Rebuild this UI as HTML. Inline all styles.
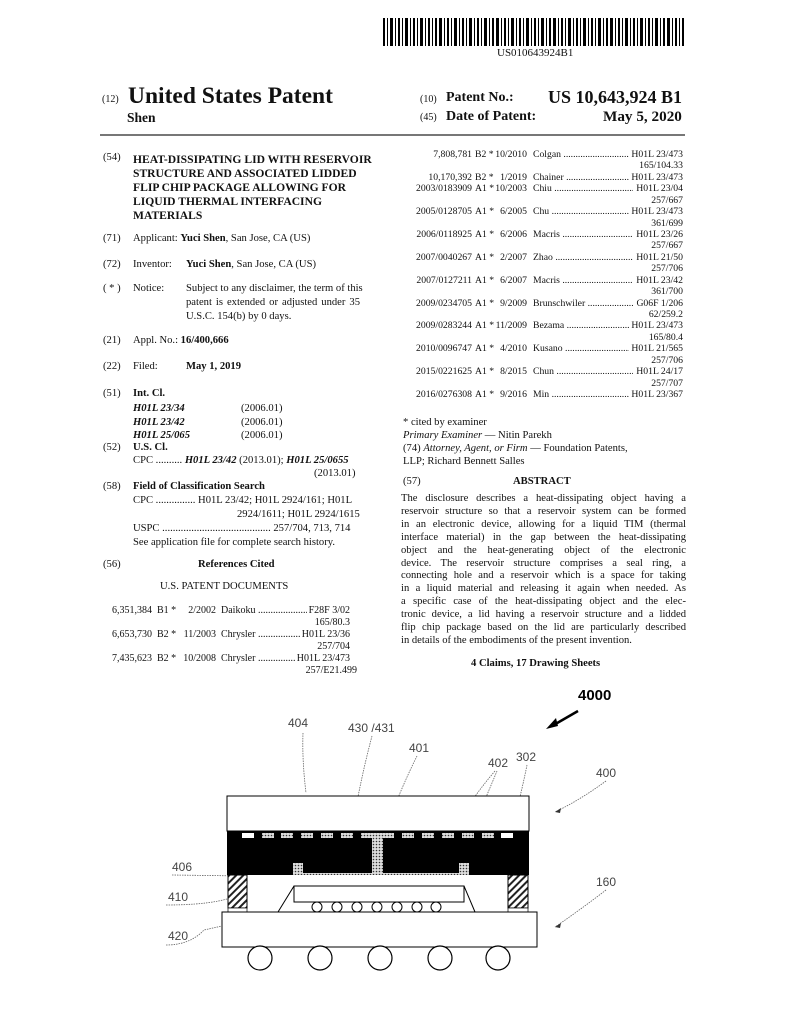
<!DOCTYPE html>
<html><head><meta charset="utf-8"><style>
body{margin:0;background:#fff}
#p{position:relative;width:794px;height:1024px;overflow:hidden;font-family:"Liberation Serif",serif;color:#111;font-size:10.6px}
.a{position:absolute;white-space:nowrap;line-height:1}
.b{font-weight:bold}
.r{position:absolute;height:12px;font-size:10px;line-height:1;white-space:nowrap}
.rr{font-size:9.7px}
.r span{position:absolute;top:0}
.n{text-align:right}
.nm{overflow:hidden}
.c{text-align:right;background:#fff;padding-left:2px}
.l{position:absolute;left:401px;width:285px;text-align:justify;text-align-last:justify;white-space:nowrap;font-size:10.6px;line-height:1}
</style></head><body><div id="p">
<svg class="a" style="left:383px;top:18px" width="301" height="28">
<g fill="#000">
<rect x="0" y="0" width="2" height="28"/><rect x="4" y="0" width="1" height="28"/><rect x="7" y="0" width="3" height="28"/><rect x="12" y="0" width="1" height="28"/><rect x="15" y="0" width="2" height="28"/><rect x="19" y="0" width="1" height="28"/><rect x="22" y="0" width="3" height="28"/><rect x="27" y="0" width="1" height="28"/><rect x="30" y="0" width="2" height="28"/><rect x="34" y="0" width="1" height="28"/><rect x="37" y="0" width="3" height="28"/><rect x="42" y="0" width="1" height="28"/><rect x="45" y="0" width="2" height="28"/><rect x="49" y="0" width="1" height="28"/><rect x="52" y="0" width="2" height="28"/><rect x="56" y="0" width="3" height="28"/><rect x="61" y="0" width="1" height="28"/><rect x="64" y="0" width="2" height="28"/><rect x="68" y="0" width="1" height="28"/><rect x="71" y="0" width="3" height="28"/><rect x="76" y="0" width="1" height="28"/><rect x="79" y="0" width="2" height="28"/><rect x="83" y="0" width="1" height="28"/><rect x="86" y="0" width="3" height="28"/><rect x="91" y="0" width="1" height="28"/><rect x="94" y="0" width="2" height="28"/><rect x="98" y="0" width="1" height="28"/><rect x="101" y="0" width="3" height="28"/><rect x="106" y="0" width="1" height="28"/><rect x="109" y="0" width="2" height="28"/><rect x="113" y="0" width="3" height="28"/><rect x="118" y="0" width="1" height="28"/><rect x="121" y="0" width="2" height="28"/><rect x="125" y="0" width="1" height="28"/><rect x="128" y="0" width="3" height="28"/><rect x="133" y="0" width="1" height="28"/><rect x="136" y="0" width="2" height="28"/><rect x="140" y="0" width="1" height="28"/><rect x="143" y="0" width="3" height="28"/><rect x="148" y="0" width="1" height="28"/><rect x="151" y="0" width="2" height="28"/><rect x="155" y="0" width="1" height="28"/><rect x="158" y="0" width="3" height="28"/><rect x="163" y="0" width="1" height="28"/><rect x="166" y="0" width="2" height="28"/><rect x="170" y="0" width="3" height="28"/><rect x="175" y="0" width="1" height="28"/><rect x="178" y="0" width="2" height="28"/><rect x="182" y="0" width="1" height="28"/><rect x="185" y="0" width="3" height="28"/><rect x="190" y="0" width="1" height="28"/><rect x="193" y="0" width="2" height="28"/><rect x="197" y="0" width="1" height="28"/><rect x="200" y="0" width="3" height="28"/><rect x="205" y="0" width="1" height="28"/><rect x="208" y="0" width="2" height="28"/><rect x="212" y="0" width="1" height="28"/><rect x="215" y="0" width="3" height="28"/><rect x="220" y="0" width="1" height="28"/><rect x="223" y="0" width="2" height="28"/><rect x="227" y="0" width="3" height="28"/><rect x="232" y="0" width="1" height="28"/><rect x="235" y="0" width="2" height="28"/><rect x="239" y="0" width="1" height="28"/><rect x="242" y="0" width="3" height="28"/><rect x="247" y="0" width="1" height="28"/><rect x="250" y="0" width="2" height="28"/><rect x="254" y="0" width="1" height="28"/><rect x="257" y="0" width="3" height="28"/><rect x="262" y="0" width="1" height="28"/><rect x="265" y="0" width="2" height="28"/><rect x="269" y="0" width="1" height="28"/><rect x="272" y="0" width="3" height="28"/><rect x="277" y="0" width="1" height="28"/><rect x="280" y="0" width="2" height="28"/><rect x="284" y="0" width="3" height="28"/><rect x="289" y="0" width="1" height="28"/><rect x="292" y="0" width="2" height="28"/><rect x="296" y="0" width="1" height="28"/><rect x="299" y="0" width="2" height="28"/>
</g></svg>
<div class="a" style="left:497px;top:48px;font-size:11px">US010643924B1</div>

<div class="a" style="left:102px;top:95px;font-size:10px">(12)</div>
<div class="a b" style="left:128px;top:85px;font-size:23.5px">United States Patent</div>
<div class="a b" style="left:127px;top:111px;font-size:13.5px">Shen</div>
<div class="a" style="left:420px;top:95px;font-size:10px">(10)</div>
<div class="a b" style="left:446px;top:91px;font-size:14px">Patent No.:</div>
<div class="a b" style="left:548px;top:88px;font-size:18px">US 10,643,924 B1</div>
<div class="a" style="left:420px;top:113px;font-size:10px">(45)</div>
<div class="a b" style="left:446px;top:110px;font-size:14px">Date of Patent:</div>
<div class="a b" style="left:603px;top:109px;font-size:15.2px">May 5, 2020</div>
<div class="a" style="left:100px;top:134px;width:585px;height:2px;background:#777"></div>

<!-- left column -->
<div class="a" style="left:103px;top:153px">(54)</div>
<div class="a b" style="left:133px;top:153px;line-height:14px;font-size:11.6px">HEAT-DISSIPATING LID WITH RESERVOIR<br>STRUCTURE AND ASSOCIATED LIDDED<br>FLIP CHIP PACKAGE ALLOWING FOR<br>LIQUID THERMAL INTERFACING<br>MATERIALS</div>
<div class="a" style="left:103px;top:234px">(71)</div>
<div class="a" style="left:133px;top:234px">Applicant: <b>Yuci Shen</b>, San Jose, CA (US)</div>
<div class="a" style="left:103px;top:260px">(72)</div>
<div class="a" style="left:133px;top:260px">Inventor:</div>
<div class="a" style="left:186px;top:260px"><b>Yuci Shen</b>, San Jose, CA (US)</div>
<div class="a" style="left:103px;top:284px">( * )</div>
<div class="a" style="left:133px;top:284px">Notice:</div>
<div class="l" style="left:186px;width:174px;top:284px">Subject to any disclaimer, the term of this</div>
<div class="l" style="left:186px;width:174px;top:298px">patent is extended or adjusted under 35</div>
<div class="a" style="left:186px;top:312px">U.S.C. 154(b) by 0 days.</div>
<div class="a" style="left:103px;top:336px">(21)</div>
<div class="a" style="left:133px;top:336px">Appl. No.: <b>16/400,666</b></div>
<div class="a" style="left:103px;top:362px">(22)</div>
<div class="a" style="left:133px;top:362px">Filed:</div>
<div class="a b" style="left:186px;top:362px">May 1, 2019</div>
<div class="a" style="left:103px;top:389px">(51)</div>
<div class="a b" style="left:133px;top:389px">Int. Cl.</div>
<div class="a b" style="left:133px;top:402px;line-height:13.5px;font-style:italic">H01L 23/34<br>H01L 23/42<br>H01L 25/065</div>
<div class="a" style="left:241px;top:402px;line-height:13.5px">(2006.01)<br>(2006.01)<br>(2006.01)</div>
<div class="a" style="left:103px;top:443px">(52)</div>
<div class="a b" style="left:133px;top:443px">U.S. Cl.</div>
<div class="a" style="left:133px;top:456px">CPC .......... <b><i>H01L 23/42</i></b> (2013.01); <b><i>H01L 25/0655</i></b></div>
<div class="a" style="left:314px;top:469px">(2013.01)</div>
<div class="a" style="left:103px;top:482px">(58)</div>
<div class="a b" style="left:133px;top:482px">Field of Classification Search</div>
<div class="a" style="left:133px;top:496px">CPC ............... H01L 23/42; H01L 2924/161; H01L</div>
<div class="a" style="left:237px;top:510px">2924/1611; H01L 2924/1615</div>
<div class="a" style="left:133px;top:524px">USPC ......................................... 257/704, 713, 714</div>
<div class="a" style="left:133px;top:538px">See application file for complete search history.</div>
<div class="a" style="left:103px;top:560px">(56)</div>
<div class="a b" style="left:198px;top:560px">References Cited</div>
<div class="a" style="left:160px;top:582px">U.S. PATENT DOCUMENTS</div>

<div class="r" style="left:100px;top:606px;width:250px"><span class="n" style="left:0;width:52px">6,351,384</span><span style="left:57px">B1 *</span><span class="n" style="left:80px;width:36px">2/2002</span><span class="nm" style="left:121px;width:100px">Daikoku ..............................................</span><span class="c" style="right:0">F28F 3/02</span></div>
<div class="r" style="left:100px;top:618px;width:250px"><span class="c" style="right:0">165/80.3</span></div>
<div class="r" style="left:100px;top:630px;width:250px"><span class="n" style="left:0;width:52px">6,653,730</span><span style="left:57px">B2 *</span><span class="n" style="left:80px;width:36px">11/2003</span><span class="nm" style="left:121px;width:100px">Chrysler ..............................................</span><span class="c" style="right:0">H01L 23/36</span></div>
<div class="r" style="left:100px;top:642px;width:250px"><span class="c" style="right:0">257/704</span></div>
<div class="r" style="left:100px;top:654px;width:250px"><span class="n" style="left:0;width:52px">7,435,623</span><span style="left:57px">B2 *</span><span class="n" style="left:80px;width:36px">10/2008</span><span class="nm" style="left:121px;width:100px">Chrysler ..............................................</span><span class="c" style="right:0">H01L 23/473</span></div>
<div class="r" style="left:100px;top:666px;width:257px"><span class="c" style="right:0">257/E21.499</span></div>

<!-- right column refs -->
<div class="r rr" style="left:400px;top:150px;width:283px"><span class="n" style="left:0;width:72px">7,808,781</span><span style="left:75px">B2 *</span><span class="n" style="left:92px;width:35px">10/2010</span><span class="nm" style="left:133px;width:100px">Colgan ..................................................</span><span class="c" style="right:0">H01L 23/473</span></div>
<div class="r rr" style="left:400px;top:161.4px;width:283px"><span class="c" style="right:0">165/104.33</span></div>
<div class="r rr" style="left:400px;top:172.9px;width:283px"><span class="n" style="left:0;width:72px">10,170,392</span><span style="left:75px">B2 *</span><span class="n" style="left:92px;width:35px">1/2019</span><span class="nm" style="left:133px;width:100px">Chainer ..................................................</span><span class="c" style="right:0">H01L 23/473</span></div>
<div class="r rr" style="left:400px;top:184.3px;width:283px"><span class="n" style="left:0;width:72px">2003/0183909</span><span style="left:75px">A1 *</span><span class="n" style="left:92px;width:35px">10/2003</span><span class="nm" style="left:133px;width:100px">Chiu ..................................................</span><span class="c" style="right:0">H01L 23/04</span></div>
<div class="r rr" style="left:400px;top:195.7px;width:283px"><span class="c" style="right:0">257/667</span></div>
<div class="r rr" style="left:400px;top:207.1px;width:283px"><span class="n" style="left:0;width:72px">2005/0128705</span><span style="left:75px">A1 *</span><span class="n" style="left:92px;width:35px">6/2005</span><span class="nm" style="left:133px;width:100px">Chu ..................................................</span><span class="c" style="right:0">H01L 23/473</span></div>
<div class="r rr" style="left:400px;top:218.6px;width:283px"><span class="c" style="right:0">361/699</span></div>
<div class="r rr" style="left:400px;top:230px;width:283px"><span class="n" style="left:0;width:72px">2006/0118925</span><span style="left:75px">A1 *</span><span class="n" style="left:92px;width:35px">6/2006</span><span class="nm" style="left:133px;width:100px">Macris ..................................................</span><span class="c" style="right:0">H01L 23/26</span></div>
<div class="r rr" style="left:400px;top:241.4px;width:283px"><span class="c" style="right:0">257/667</span></div>
<div class="r rr" style="left:400px;top:252.9px;width:283px"><span class="n" style="left:0;width:72px">2007/0040267</span><span style="left:75px">A1 *</span><span class="n" style="left:92px;width:35px">2/2007</span><span class="nm" style="left:133px;width:100px">Zhao ..................................................</span><span class="c" style="right:0">H01L 21/50</span></div>
<div class="r rr" style="left:400px;top:264.3px;width:283px"><span class="c" style="right:0">257/706</span></div>
<div class="r rr" style="left:400px;top:275.7px;width:283px"><span class="n" style="left:0;width:72px">2007/0127211</span><span style="left:75px">A1 *</span><span class="n" style="left:92px;width:35px">6/2007</span><span class="nm" style="left:133px;width:100px">Macris ..................................................</span><span class="c" style="right:0">H01L 23/42</span></div>
<div class="r rr" style="left:400px;top:287.1px;width:283px"><span class="c" style="right:0">361/700</span></div>
<div class="r rr" style="left:400px;top:298.6px;width:283px"><span class="n" style="left:0;width:72px">2009/0234705</span><span style="left:75px">A1 *</span><span class="n" style="left:92px;width:35px">9/2009</span><span class="nm" style="left:133px;width:100px">Brunschwiler ..................................................</span><span class="c" style="right:0">G06F 1/206</span></div>
<div class="r rr" style="left:400px;top:310px;width:283px"><span class="c" style="right:0">62/259.2</span></div>
<div class="r rr" style="left:400px;top:321.4px;width:283px"><span class="n" style="left:0;width:72px">2009/0283244</span><span style="left:75px">A1 *</span><span class="n" style="left:92px;width:35px">11/2009</span><span class="nm" style="left:133px;width:100px">Bezama ..................................................</span><span class="c" style="right:0">H01L 23/473</span></div>
<div class="r rr" style="left:400px;top:332.9px;width:283px"><span class="c" style="right:0">165/80.4</span></div>
<div class="r rr" style="left:400px;top:344.3px;width:283px"><span class="n" style="left:0;width:72px">2010/0096747</span><span style="left:75px">A1 *</span><span class="n" style="left:92px;width:35px">4/2010</span><span class="nm" style="left:133px;width:100px">Kusano ..................................................</span><span class="c" style="right:0">H01L 21/565</span></div>
<div class="r rr" style="left:400px;top:355.7px;width:283px"><span class="c" style="right:0">257/706</span></div>
<div class="r rr" style="left:400px;top:367.1px;width:283px"><span class="n" style="left:0;width:72px">2015/0221625</span><span style="left:75px">A1 *</span><span class="n" style="left:92px;width:35px">8/2015</span><span class="nm" style="left:133px;width:100px">Chun ..................................................</span><span class="c" style="right:0">H01L 24/17</span></div>
<div class="r rr" style="left:400px;top:378.6px;width:283px"><span class="c" style="right:0">257/707</span></div>
<div class="r rr" style="left:400px;top:390px;width:283px"><span class="n" style="left:0;width:72px">2016/0276308</span><span style="left:75px">A1 *</span><span class="n" style="left:92px;width:35px">9/2016</span><span class="nm" style="left:133px;width:100px">Min ..................................................</span><span class="c" style="right:0">H01L 23/367</span></div>

<div class="a" style="left:403px;top:418px">* cited by examiner</div>
<div class="a" style="left:403px;top:431px"><i>Primary Examiner</i> — Nitin Parekh</div>
<div class="a" style="left:403px;top:444px">(74) <i>Attorney, Agent, or Firm</i> — Foundation Patents,</div>
<div class="a" style="left:403px;top:457px">LLP; Richard Bennett Salles</div>
<div class="a" style="left:403px;top:477px">(57)</div>
<div class="a b" style="left:513px;top:477px">ABSTRACT</div>
<div class="l" style="top:494px">The disclosure describes a heat-dissipating object having a</div>
<div class="l" style="top:506.9px">reservoir structure so that a reservoir system can be formed</div>
<div class="l" style="top:519.8px">in an electronic device, allowing for a liquid TIM (thermal</div>
<div class="l" style="top:532.7px">interface material) in the gap between the heat-dissipating</div>
<div class="l" style="top:545.6px">object and the heat-generating object of the electronic</div>
<div class="l" style="top:558.5px">device. The reservoir structure comprises a seal ring, a</div>
<div class="l" style="top:571.4px">connecting hole and a reservoir which is a space for taking</div>
<div class="l" style="top:584.3px">in a liquid material and releasing it again when needed. As</div>
<div class="l" style="top:597.2px">a specific case of the heat-dissipating object and the elec-</div>
<div class="l" style="top:610.1px">tronic device, a lid having a reservoir structure and a lidded</div>
<div class="l" style="top:623px">flip chip package based on the lid are particularly described</div>
<div class="a" style="left:401px;top:635.9px">in details of the embodiments of the present invention.</div>
<div class="a b" style="left:471px;top:659px">4 Claims, 17 Drawing Sheets</div>

<!-- figure -->
<svg class="a" style="left:0;top:680px" width="794" height="344" viewBox="0 680 794 344">
<defs>
<pattern id="h" width="5" height="5" patternUnits="userSpaceOnUse" patternTransform="rotate(45)"><rect width="5" height="5" fill="#fff"/><rect width="2" height="5" fill="#222"/></pattern>
<pattern id="d" width="3" height="3" patternUnits="userSpaceOnUse"><rect width="3" height="3" fill="#ddd"/><circle cx="1.5" cy="1.5" r="0.8" fill="#333"/></pattern>
</defs>
<g font-family="Liberation Sans,sans-serif" font-size="12" fill="#444">
<text x="288" y="727">404</text><text x="348" y="732">430 /431</text><text x="409" y="752">401</text>
<text x="488" y="767">402</text><text x="516" y="761">302</text><text x="596" y="777">400</text>
<text x="596" y="886">160</text><text x="172" y="871">406</text><text x="168" y="901">410</text><text x="168" y="940">420</text>
</g>
<text x="578" y="700" font-family="Liberation Sans,sans-serif" font-size="15" font-weight="bold">4000</text>
<path d="M578 711 L552 726" stroke="#000" stroke-width="2.5"/><path d="M546 729 L556 718 L558 726 Z" fill="#000"/>
<g fill="none" stroke="#666" stroke-width="0.8" stroke-dasharray="1.5 1">
<path d="M303 733 Q302 760 306 793"/>
<path d="M372 736 Q355 800 345 876"/>
<path d="M417 756 Q400 790 384 834"/>
<path d="M495 771 Q470 800 452 833"/>
<path d="M497 771 Q485 800 470 834"/>
<path d="M527 765 Q520 800 510 834"/>
<path d="M606 781 Q580 800 555 812"/>
<path d="M606 890 Q580 910 555 927"/>
<path d="M172 875 L244 876"/>
<path d="M166 905 Q230 905 248 889"/>
<path d="M166 945 Q190 945 204 930 L222 926"/>
</g>
<path d="M555 812 l6 -4 l-1 5z M555 927 l6 -4 l-1 5z" fill="#333"/>
<rect x="227" y="796" width="302" height="35" fill="#fff" stroke="#000" stroke-width="1"/>
<rect x="227" y="831" width="302" height="44" fill="#000"/>
<g fill="#fff">
<rect x="242" y="833" width="12" height="5"/><rect x="262" y="833" width="12" height="5" fill="url(#d)"/><rect x="281" y="833" width="12" height="5" fill="url(#d)"/><rect x="301" y="833" width="12" height="5" fill="url(#d)"/><rect x="321" y="833" width="12" height="5" fill="url(#d)"/><rect x="341" y="833" width="12" height="5" fill="url(#d)"/><rect x="361" y="833" width="33" height="5" fill="url(#d)"/><rect x="402" y="833" width="12" height="5" fill="url(#d)"/><rect x="422" y="833" width="12" height="5" fill="url(#d)"/><rect x="442" y="833" width="12" height="5" fill="url(#d)"/><rect x="462" y="833" width="12" height="5" fill="url(#d)"/><rect x="482" y="833" width="12" height="5" fill="url(#d)"/><rect x="501" y="833" width="12" height="5"/>
</g>
<rect x="372" y="837" width="11" height="37" fill="url(#d)"/>
<rect x="293" y="873" width="173" height="8" fill="url(#d)"/>
<rect x="293" y="863" width="10" height="18" fill="url(#d)"/><rect x="459" y="863" width="10" height="18" fill="url(#d)"/>
<rect x="247" y="875" width="261" height="37" fill="#fff"/>
<rect x="228" y="875" width="19" height="33" fill="url(#h)" stroke="#000"/><rect x="508" y="875" width="20" height="33" fill="url(#h)" stroke="#000"/>
<rect x="228" y="908" width="19" height="4" fill="#fff" stroke="#000" stroke-width="0.7"/><rect x="508" y="908" width="20" height="4" fill="#fff" stroke="#000" stroke-width="0.7"/>
<rect x="294" y="886" width="170" height="16" fill="#fff" stroke="#000"/>
<path d="M294 886 L278 912 M464 886 L475 912" stroke="#000"/>
<g fill="#fff" stroke="#000"><circle cx="317" cy="907" r="5"/><circle cx="337" cy="907" r="5"/><circle cx="357" cy="907" r="5"/><circle cx="377" cy="907" r="5"/><circle cx="397" cy="907" r="5"/><circle cx="417" cy="907" r="5"/><circle cx="436" cy="907" r="5"/></g>
<rect x="222" y="912" width="315" height="35" fill="#fff" stroke="#000"/>
<g fill="#fff" stroke="#000" stroke-width="1.2"><circle cx="260" cy="958" r="12"/><circle cx="320" cy="958" r="12"/><circle cx="380" cy="958" r="12"/><circle cx="440" cy="958" r="12"/><circle cx="498" cy="958" r="12"/></g>
</svg>
</div></body></html>
